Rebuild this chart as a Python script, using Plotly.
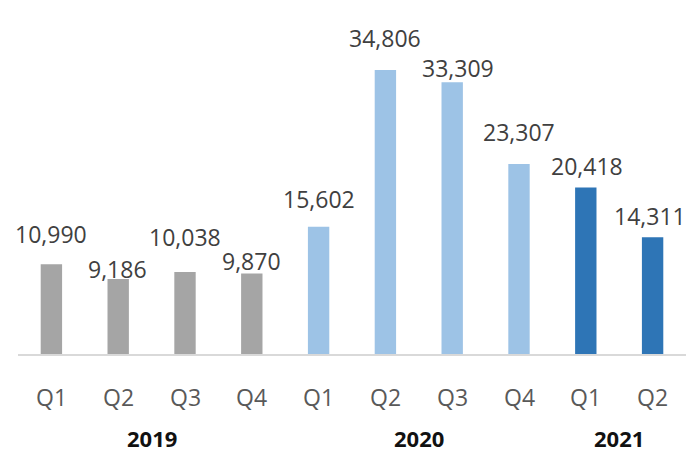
import plotly.graph_objects as go

# Quarterly values
quarters = ["Q1", "Q2", "Q3", "Q4", "Q1", "Q2", "Q3", "Q4", "Q1", "Q2"]
years = ["2019", "2020", "2021"]
year_of_bar = ["2019"] * 4 + ["2020"] * 4 + ["2021"] * 2
values = [10990, 9186, 10038, 9870, 15602, 34806, 33309, 23307, 20418, 14311]

# Styling
year_colors = {"2019": "#A5A5A5", "2020": "#9DC3E6", "2021": "#2E75B6"}
label_lift = [30, 10, 35, 12, 28, 32, 14, 32, 21, 21]   # px above bar top
label_nudge = [0, -1, 0, 0, 0, 0, 6, 0, 1, -3]          # px sideways
year_center = {"2019": 1.5, "2020": 5.5, "2021": 8.5}

xs = list(range(len(values)))
fig = go.Figure()
fig.add_trace(go.Bar(
    x=xs, y=values, width=0.32,
    marker=dict(color=[year_colors[y] for y in year_of_bar], line=dict(width=0)),
    hoverinfo="skip",
))

annotations = []
for i, v in enumerate(values):
    annotations.append(dict(
        x=i, y=v, xref="x", yref="y", text=f"{v:,}", showarrow=False,
        yanchor="middle", yshift=label_lift[i], xshift=label_nudge[i],
        font=dict(family="Open Sans", size=23, color="#404040"),
    ))
    annotations.append(dict(
        x=i, y=0, xref="x", yref="y", text=quarters[i], showarrow=False,
        yanchor="middle", yshift=-43,
        font=dict(family="Open Sans", size=23, color="#595959"),
    ))
for yr in years:
    annotations.append(dict(
        x=year_center[yr], y=0, xref="x", yref="y", text=f"<b>{yr}</b>",
        showarrow=False, yanchor="middle", yshift=-84,
        font=dict(family="Open Sans", size=22, color="#111111"),
    ))

fig.update_layout(
    width=689, height=455,
    margin=dict(l=0, r=0, t=0, b=101),
    paper_bgcolor="white", plot_bgcolor="white",
    showlegend=False,
    annotations=annotations,
    xaxis=dict(domain=[18 / 689, 686 / 689], range=[-0.5, 9.5],
               showticklabels=False, ticks="", showgrid=False, zeroline=False,
               showline=True, linecolor="#D9D9D9", linewidth=2),
    yaxis=dict(range=[0, 43400], visible=False, showgrid=False, zeroline=False),
)

fig.write_html("out.html")
